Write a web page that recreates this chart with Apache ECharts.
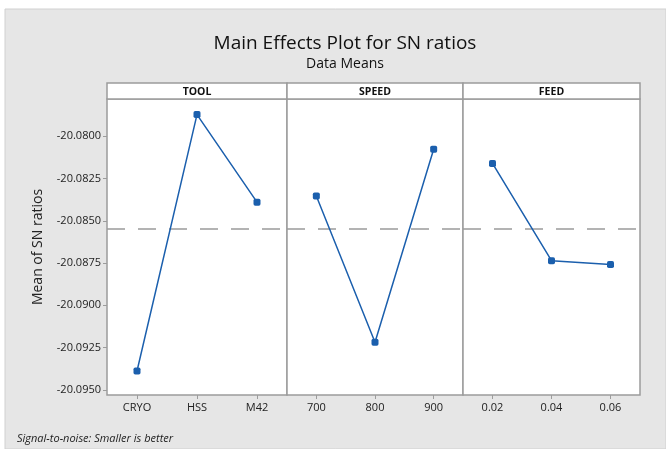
<!DOCTYPE html>
<html><head><meta charset="utf-8">
<script src="https://cdn.jsdelivr.net/npm/echarts@6/dist/echarts.min.js"></script>
<style>html,body{margin:0;padding:0;background:#fff}#c{width:666px;height:449px}</style>
</head><body><div id="c"></div><script>
// ---- data ----
const toolCats = ['CRYO', 'HSS', 'M42'];
const toolVals = [-20.09388, -20.07872, -20.08390];
const speedCats = ['700', '800', '900'];
const speedVals = [-20.08354, -20.09218, -20.08077];
const feedCats = ['0.02', '0.04', '0.06'];
const feedVals = [-20.08161, -20.08736, -20.08758];
const panelNames = ['TOOL', 'SPEED', 'FEED'];
const yTicks = [-20.0800, -20.0825, -20.0850, -20.0875, -20.0900, -20.0925, -20.0950];
const overallMean = -20.0855;
const yMin = -20.0953, yMax = -20.0778;

// ---- layout ----
const W = 666, H = 449;
const xs = [107, 287, 463, 640];
const plotTop = 99, plotBottom = 395, stripTop = 83;
const FONT = 'Open Sans';
const BLUE = '#1b5fad';
const BORDER = '#9c9c9c';

const chart = echarts.init(document.getElementById('c'), null, {renderer: 'canvas'});
const cats = [toolCats, speedCats, feedCats];
const vals = [toolVals, speedVals, feedVals];

const grids = [], xAxes = [], yAxes = [], series = [];
for (let i = 0; i < 3; i++) {
  grids.push({left: xs[i], right: W - xs[i + 1], top: plotTop, bottom: H - plotBottom,
    show: true, backgroundColor: '#fff', borderColor: BORDER, borderWidth: 1.5, containLabel: false});
  xAxes.push({type: 'category', gridIndex: i, data: cats[i], boundaryGap: true,
    axisLine: {show: false},
    axisTick: {show: true, alignWithLabel: true, length: 4, lineStyle: {color: BORDER}},
    axisLabel: {color: '#222', fontFamily: FONT, fontSize: 11, margin: 7}});
  yAxes.push({type: 'value', gridIndex: i, min: yMin, max: yMax, show: i === 0,
    splitLine: {show: false}, axisLine: {show: false},
    axisTick: {show: true, length: 4, lineStyle: {color: BORDER}, customValues: yTicks},
    axisLabel: {color: '#222', fontFamily: FONT, fontSize: 11, margin: 6, customValues: yTicks,
      formatter: v => v.toFixed(4)},
    name: i === 0 ? 'Mean of SN ratios' : '', nameLocation: 'middle', nameGap: 62,
    nameTextStyle: {color: '#222', fontFamily: FONT, fontSize: 14}});
  series.push({type: 'line', xAxisIndex: i, yAxisIndex: i, data: vals[i],
    symbol: 'roundRect', symbolSize: 7, lineStyle: {color: BLUE, width: 1.5},
    itemStyle: {color: BLUE}, z: 3,
    markLine: {silent: true, symbol: 'none', precision: 5, label: {show: false}, z: 2,
      lineStyle: {color: '#9a9a9a', width: 1.5, type: [18, 13]},
      data: [{yAxis: overallMean}]}});
}

const graphics = [
  {type: 'rect', shape: {x: 5, y: 9, width: W - 5, height: H - 9}, style: {fill: '#e6e6e6', stroke: '#d0d0d0', lineWidth: 1}, z: -10}
];
for (let i = 0; i < 3; i++) {
  graphics.push({type: 'rect', shape: {x: xs[i], y: stripTop, width: xs[i + 1] - xs[i], height: plotTop - stripTop},
    style: {fill: '#fff', stroke: BORDER, lineWidth: 1.5}, z: 1});
  graphics.push({type: 'text', x: (xs[i] + xs[i + 1]) / 2, y: (stripTop + plotTop) / 2 + 1,
    style: {text: panelNames[i], fill: '#111', font: 'bold 10.5px "' + FONT + '"', textAlign: 'center', textVerticalAlign: 'middle'}, z: 2});
}

chart.setOption({
  animation: false,
  backgroundColor: '#fff',
  title: [
    {text: 'Main Effects Plot for SN ratios', left: 340, top: 29, textAlign: 'center',
      textStyle: {fontFamily: FONT, fontSize: 19, fontWeight: 'normal', color: '#111'}},
    {text: 'Data Means', left: 340, top: 52, textAlign: 'center',
      textStyle: {fontFamily: FONT, fontSize: 14, fontWeight: 'normal', color: '#111'}},
    {text: 'Signal-to-noise: Smaller is better', left: 12, top: 428,
      textStyle: {fontFamily: FONT, fontSize: 11, fontStyle: 'italic', fontWeight: 'normal', color: '#222'}}
  ],
  graphic: graphics,
  grid: grids, xAxis: xAxes, yAxis: yAxes, series: series
});
</script></body></html>
